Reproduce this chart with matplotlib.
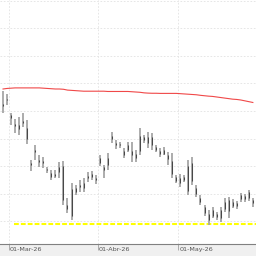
import matplotlib.pyplot as plt
import matplotlib.transforms as mtransforms
import numpy as np

# daily bars, 26-Feb-26 .. end of May-26
high = [14.73, 14.62, 13.93, 13.71, 13.78, 13.93, 13.67, 12.22, 12.76, 12.40,
        12.33, 11.96, 11.85, 11.85, 12.15, 12.18, 10.84, 11.38, 11.31, 11.49,
        11.56, 11.78, 11.82, 11.67, 12.40, 12.04, 12.47, 13.24, 12.95, 12.87,
        12.66, 12.87, 12.87, 12.58, 13.38, 13.13, 13.24, 13.20, 12.76, 12.66,
        12.69, 12.51, 12.47, 11.67, 11.71, 11.67, 12.22, 12.33, 11.31, 10.95,
        10.58, 10.40, 10.51, 10.33, 10.51, 10.84, 10.87, 10.80, 10.73, 11.02,
        10.98, 11.13, 10.84]
low = [13.93, 14.22, 13.49, 13.20, 13.13, 13.42, 12.80, 11.82, 12.22, 11.96,
       11.93, 11.75, 11.49, 11.56, 11.56, 10.58, 10.29, 10.04, 10.95, 11.06,
       11.06, 11.42, 11.49, 11.35, 12.00, 11.56, 11.85, 12.84, 12.62, 12.66,
       12.29, 12.51, 12.15, 12.15, 12.40, 12.84, 12.66, 12.58, 12.51, 12.33,
       12.40, 12.04, 11.56, 11.38, 11.24, 11.42, 10.95, 11.31, 10.87, 10.58,
       10.18, 9.87, 10.11, 10.04, 9.96, 10.33, 10.11, 10.47, 10.44, 10.69,
       10.69, 10.73, 10.51]
opn = [14.18, 14.40, 13.85, 13.45, 13.50, 13.55, 13.40, 12.05, 12.50, 12.15,
       12.10, 11.85, 11.75, 11.65, 11.80, 12.00, 10.45, 10.20, 11.05, 11.25,
       11.20, 11.55, 11.60, 11.55, 12.10, 11.85, 12.05, 13.10, 12.85, 12.75,
       12.55, 12.60, 12.55, 12.30, 12.55, 13.05, 12.85, 13.05, 12.70, 12.55,
       12.45, 12.40, 12.20, 11.60, 11.40, 11.60, 11.10, 12.10, 11.20, 10.85,
       10.50, 10.25, 10.20, 10.25, 10.10, 10.45, 10.75, 10.55, 10.65, 10.80,
       10.90, 10.85, 10.75]
close = [14.25, 14.45, 13.75, 13.52, 13.35, 13.62, 13.00, 12.10, 12.60, 12.22,
         12.18, 11.90, 11.60, 11.72, 11.95, 10.75, 10.60, 11.15, 11.20, 11.30,
         11.40, 11.65, 11.72, 11.50, 12.30, 11.95, 12.30, 13.00, 12.75, 12.80,
         12.40, 12.75, 12.40, 12.45, 13.10, 12.95, 13.05, 12.75, 12.60, 12.45,
         12.60, 12.25, 11.70, 11.45, 11.55, 11.50, 12.00, 11.45, 11.00, 10.70,
         10.30, 10.05, 10.40, 10.15, 10.40, 10.70, 10.35, 10.70, 10.55, 10.95,
         10.80, 11.05, 10.65]
# long moving average
ma = [14.80, 14.82, 14.83, 14.84, 14.84, 14.84, 14.84, 14.84, 14.84, 14.84,
      14.83, 14.82, 14.81, 14.80, 14.80, 14.79, 14.76, 14.75, 14.74, 14.73,
      14.72, 14.72, 14.72, 14.72, 14.72, 14.72, 14.71, 14.71, 14.71, 14.71,
      14.71, 14.71, 14.70, 14.69, 14.68, 14.66, 14.65, 14.645, 14.645, 14.64,
      14.64, 14.64, 14.64, 14.64, 14.63, 14.62, 14.61, 14.60, 14.59, 14.57,
      14.555, 14.54, 14.53, 14.51, 14.49, 14.47, 14.45, 14.43, 14.42, 14.40,
      14.37, 14.34, 14.31]
support = 9.90
month_start = [2, 24, 44]
month_labels = ["01-Mar-26", "01-Abr-26", "01-May-26"]

x = np.arange(len(high))

fig = plt.figure(figsize=(2.56, 2.56), dpi=100, facecolor="#f0f0f0")
ax = fig.add_axes([0, 12 / 256, 1, 244 / 256])
ax.set_facecolor("white")

ax.vlines(x, low, high, color="#a6a6a6", linewidth=1.3, zorder=3)
ax.vlines(x, opn, close, color="#484848", linewidth=0.75, zorder=4)
ax.plot(x, ma, color="#f04848", linewidth=0.8, zorder=5)
ax.hlines(support, 2.75, len(x) + 1, color="#ffff00", linewidth=1.5,
          linestyle=(0, (2.3, 1)), zorder=2)

ax.set_xlim(-0.75, 62.78)
ax.set_ylim(9.164, 18.036)
ax.set_yticks(np.arange(10, 19))
ax.set_xticks(np.array(month_start) - 0.5)
ax.set_xticklabels(month_labels)
ax.grid(True, color="#e2e2e2", linewidth=0.6, linestyle=(0, (2, 2)))
ax.set_axisbelow(True)

for s in ["left", "right", "top"]:
    ax.spines[s].set_visible(False)
ax.spines["bottom"].set_color("#808080")
ax.spines["bottom"].set_linewidth(0.8)

ax.tick_params(axis="y", length=0, labelleft=False)
ax.tick_params(axis="x", length=4, width=0.6, color="#a0a0a0", pad=-1.5,
               labelsize=4.6, labelcolor="#555555")
offset = mtransforms.ScaledTranslation(1 / 100, 0, fig.dpi_scale_trans)
for lab in ax.get_xticklabels():
    lab.set_horizontalalignment("left")
    lab.set_transform(lab.get_transform() + offset)

plt.savefig("out.png", dpi=100, facecolor=fig.get_facecolor())
